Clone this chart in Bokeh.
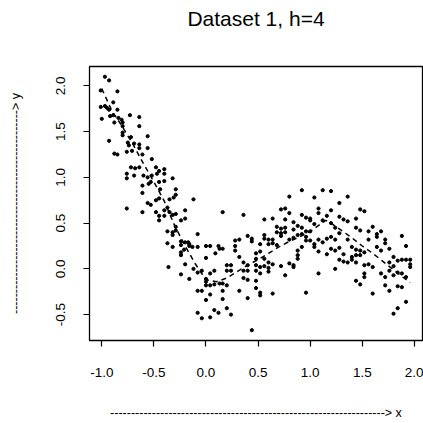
from bokeh.plotting import figure
from bokeh.models import Range1d, FixedTicker, Title
from bokeh.embed import file_html
from bokeh.resources import INLINE

# scatter points
pt_x = [
    -0.97, -0.93, -1.01, -0.85, -0.89, -1.01, -0.97, -0.95, -0.93, -0.85,
    -1.00, -0.92, -0.89, -0.88, -0.84, -0.81, -0.73, -0.64, -0.80, -0.80,
    -0.64, -0.80, -0.80, -0.72, -0.56, -0.93, -0.75, -0.74, -0.69, -0.64,
    -0.64, -0.56, -0.76, -0.71, -0.88, -0.85, -0.61, -0.52, -0.72, -0.68,
    -0.64, -0.76, -0.76, -0.69, -0.60, -0.56, -0.52, -0.61, -0.53, -0.55,
    -0.61, -0.56, -0.53, -0.76, -0.61,
    -0.48, -0.45, -0.40, -0.47, -0.40, -0.32, -0.45, -0.40, -0.29, -0.44,
    -0.48, -0.45, -0.35, -0.29, -0.31, -0.12, -0.48, -0.45, -0.40, -0.37,
    -0.35, -0.40, -0.20, -0.32, -0.29, -0.45, -0.20, -0.24, -0.29, -0.37,
    -0.32, -0.29, -0.32, -0.24, -0.20, -0.16, -0.37, -0.32, -0.08, -0.24,
    -0.21, -0.17, -0.16, -0.13, -0.08, -0.24, -0.24, -0.20, -0.36, -0.12,
    -0.08, -0.24, -0.16, -0.04, -0.08, -0.04, -0.08, -0.04,
    0.00, 0.00, 0.04, 0.08, 0.00, 0.04, 0.08, 0.13, 0.16, 0.20,
    0.04, 0.00, 0.16, 0.16, 0.04, 0.08, 0.12, 0.20, 0.24, 0.44,
    0.00, 0.04, 0.09, 0.13, 0.16, 0.00, 0.12, 0.16, 0.36, 0.20,
    0.20, 0.24, 0.24, 0.28, 0.28, 0.28, 0.32, 0.32, 0.36, 0.36,
    0.40, 0.40, 0.40, 0.44, 0.32, 0.36, 0.40, 0.40, 0.48, 0.48,
    0.48, 0.48, 0.48, 0.48, 0.44,
    0.52, 0.52, 0.52, 0.64, 0.76, 0.60, 0.52, 0.52, 0.60, 0.56,
    0.56, 0.64, 0.64, 0.56, 0.60, 0.64, 0.52, 0.56, 0.60, 0.56,
    0.60, 0.64, 0.68, 0.68, 0.72, 0.76, 0.76, 0.72, 0.80, 0.84,
    0.88, 0.92, 0.96, 0.92, 0.96, 0.88, 0.88, 0.88, 0.80, 0.84,
    0.84, 0.72, 0.84, 0.84, 0.88, 0.92, 0.96, 0.76, 0.72, 0.76,
    0.80, 0.92, 0.80, 0.92, 0.96, 0.96, 0.68, 0.72,
    1.00, 1.00, 1.04, 1.12, 1.20, 1.04, 1.36, 1.28, 1.08, 1.08,
    1.20, 1.48, 1.52, 1.16, 1.12, 1.20, 1.28, 1.32, 1.36, 1.44,
    1.24, 1.28, 1.44, 1.48, 1.56, 1.60, 1.64, 1.68, 1.64, 1.72,
    1.72, 1.56, 1.04, 1.04, 1.08, 1.12, 1.16, 1.20, 1.24, 1.08,
    1.20, 1.28, 1.24, 1.36, 1.40, 1.44, 1.32, 1.36, 1.40, 1.40,
    1.44, 1.48, 1.48, 1.52, 1.64, 1.68, 1.80, 1.76, 1.76, 1.80,
    1.84, 1.88, 1.92, 1.96, 1.96, 1.96, 1.88, 1.92, 1.44, 1.52,
    1.56, 1.60, 1.68, 1.72, 1.76, 1.80, 1.84, 1.88, 1.92, 1.72,
    1.76, 1.84, 1.88, 1.44, 1.48, 1.52, 1.52, 1.60, 1.92, 1.84,
    1.80, 1.24, 1.08, 1.16, 1.28, 1.32, 1.00, 1.00,
]
pt_y = [
    2.10, 2.06, 1.95, 1.94, 1.82, 1.77, 1.78, 1.76, 1.74, 1.74,
    1.64, 1.67, 1.68, 1.60, 1.65, 1.63, 1.68, 1.66, 1.60, 1.56,
    1.56, 1.49, 1.46, 1.44, 1.45, 1.40, 1.38, 1.35, 1.37, 1.36,
    1.32, 1.32, 1.28, 1.29, 1.26, 1.25, 1.25, 1.20, 1.11, 1.10,
    1.11, 1.04, 0.99, 1.02, 1.02, 1.00, 1.02, 0.91, 0.95, 0.93,
    0.83, 0.72, 0.70, 0.66, 0.62,
    1.11, 1.07, 1.09, 1.04, 1.04, 0.99, 0.95, 0.96, 0.87, 0.87,
    0.75, 0.77, 0.76, 0.81, 0.78, 0.76, 0.62, 0.58, 0.64, 0.67,
    0.62, 0.58, 0.64, 0.59, 0.60, 0.53, 0.55, 0.53, 0.46, 0.41,
    0.40, 0.42, 0.37, 0.30, 0.29, 0.27, 0.28, 0.24, 0.38, 0.26,
    0.21, 0.29, 0.25, 0.24, 0.24, 0.18, 0.15, 0.05, 0.02, 0.00,
    -0.04, -0.06, -0.11, -0.02, -0.24, -0.24, -0.48, -0.54,
    -0.11, -0.14, -0.05, -0.02, -0.18, -0.18, -0.17, -0.16, -0.16, -0.18,
    -0.28, -0.34, -0.24, -0.33, -0.53, -0.45, -0.48, -0.43, -0.50, -0.67,
    0.25, 0.25, 0.17, 0.22, 0.22, 0.12, 0.25, 0.62, 0.59, 0.04,
    -0.02, 0.04, -0.02, 0.31, 0.25, 0.20, 0.32, 0.13, 0.07, -0.02,
    0.04, -0.02, 0.36, 0.33, -0.24, -0.10, -0.12, -0.32, 0.17, 0.11,
    0.04, -0.02, -0.13, -0.21, 0.30,
    0.19, -0.26, -0.29, -0.27, -0.07, -0.03, -0.05, 0.27, 0.27, 0.54,
    0.37, 0.55, 0.32, 0.11, 0.07, 0.05, 0.02, 0.03, 0.01, 0.33,
    0.32, 0.28, 0.46, 0.40, 0.44, 0.45, 0.40, 0.36, 0.32, 0.34,
    0.37, 0.38, 0.35, 0.24, 0.31, 0.20, 0.15, 0.11, 0.06, 0.04,
    0.02, 0.03, 0.51, 0.43, 0.47, 0.45, 0.41, 0.54, 0.65, 0.66,
    0.79, 0.86, 0.61, 0.59, 0.56, -0.26, 0.26, 0.39,
    0.55, 0.53, 0.49, 0.86, 0.85, 0.78, 0.79, 0.72, 0.66, 0.61,
    0.64, 0.65, 0.63, 0.58, 0.53, 0.50, 0.57, 0.54, 0.52, 0.55,
    0.45, 0.39, 0.45, 0.42, 0.41, 0.46, 0.38, 0.41, 0.35, 0.32,
    0.28, 0.32, 0.27, 0.24, 0.32, 0.29, 0.33, 0.35, 0.32, 0.19,
    0.22, 0.23, 0.20, 0.32, 0.24, 0.21, 0.16, 0.07, 0.13, 0.10,
    0.15, 0.20, 0.15, 0.18, 0.24, 0.20, 0.13, 0.22, 0.07, 0.03,
    0.09, 0.10, 0.10, 0.10, 0.05, 0.02, 0.36, 0.25, 0.07, 0.04,
    0.05, 0.02, -0.05, -0.09, -0.02, -0.07, -0.04, -0.05, -0.09, -0.18,
    -0.24, -0.19, -0.20, -0.13, -0.17, -0.05, -0.09, -0.27, -0.36, -0.43,
    -0.49, 0.00, -0.05, 0.16, 0.10, 0.08, 0.41, 0.31,
]

# smoothed curve
fit_x = [-1.0, -0.9, -0.8, -0.7, -0.6, -0.5, -0.4, -0.3, -0.2, -0.1, 0.0,
         0.1, 0.2, 0.3, 0.4, 0.5, 0.6, 0.7, 0.8, 0.9, 1.0, 1.1, 1.15, 1.2,
         1.3, 1.4, 1.5, 1.6, 1.7, 1.8, 1.9, 1.96]
fit_y = [1.97, 1.72, 1.55, 1.36, 1.15, 0.95, 0.74, 0.47, 0.25, 0.05, -0.12,
         -0.14, -0.10, -0.03, 0.04, 0.10, 0.17, 0.24, 0.30, 0.35, 0.41, 0.49, 0.53, 0.50,
         0.42, 0.34, 0.25, 0.17, 0.08, -0.01, -0.10, -0.15]

x_ticks = [-1.0, -0.5, 0.0, 0.5, 1.0, 1.5, 2.0]
y_ticks = [-0.5, 0.0, 0.5, 1.0, 1.5, 2.0]
title_text = "Dataset 1, h=4"
x_label = "-" * 66 + "> x"
y_label = "-" * 49 + "> y"

FONT = "Liberation Sans"

p = figure(width=423, height=423, output_backend="svg", toolbar_location=None,
           x_range=Range1d(-1.118, 2.078), y_range=Range1d(-0.783, 2.212),
           min_border_left=89, min_border_right=1, min_border_top=66,
           min_border_bottom=83)

# spacer (closest to the frame) then the real title above it
p.add_layout(Title(text=" ", text_font_size="1px", standoff=34), "above")
p.add_layout(Title(text=title_text, text_font=FONT, text_font_size="21px",
                   text_font_style="normal", align="center",
                   vertical_align="bottom", standoff=0, text_color="black"),
             "above")

p.outline_line_color = "black"
p.outline_line_width = 1.3
p.xgrid.visible = False
p.ygrid.visible = False
p.background_fill_color = "white"
p.border_fill_color = "white"

for ax, ticks in ((p.xaxis[0], x_ticks), (p.yaxis[0], y_ticks)):
    ax.ticker = FixedTicker(ticks=ticks)
    ax.major_label_overrides = {t: f"{t:.1f}" for t in ticks}
    ax.axis_line_color = None
    ax.major_tick_line_color = "black"
    ax.major_tick_line_width = 1.2
    ax.major_tick_out = 6
    ax.major_tick_in = 0
    ax.minor_tick_line_color = None
    ax.major_label_text_font = FONT
    ax.major_label_text_font_size = "13.5px"
    ax.major_label_text_color = "black"
    ax.axis_label_text_font = FONT
    ax.axis_label_text_font_size = "12.5px"
    ax.axis_label_text_font_style = "normal"
    ax.axis_label_text_color = "black"

p.xaxis.major_label_standoff = 21
p.yaxis.major_label_standoff = 18
p.xaxis.axis_label = x_label
p.yaxis.axis_label = y_label
p.yaxis.major_label_orientation = "vertical"
p.xaxis.axis_label_standoff = 26
p.yaxis.axis_label_standoff = 31

p.scatter(pt_x, pt_y, size=3.2, color="black")
p.line(fit_x, fit_y, line_color="black", line_width=1.5, line_dash="5 4")

open("out.html", "w").write(file_html(p, INLINE))
